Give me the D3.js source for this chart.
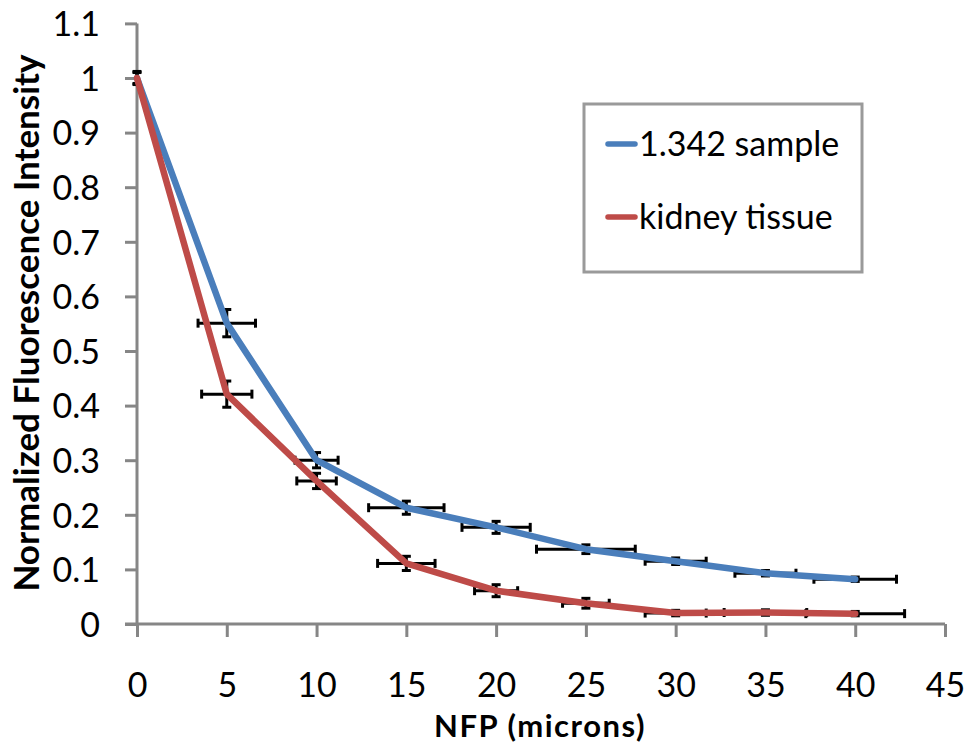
<!DOCTYPE html>
<html>
<head>
<meta charset="utf-8">
<script src="https://cdn.jsdelivr.net/npm/d3@7"></script>
<style>
  html, body { margin: 0; padding: 0; background: #fff; }
  svg { display: block; }
  text { font-family: Lato, "Open Sans", sans-serif; fill: #000; }
</style>
</head>
<body>
<svg id="chart" width="968" height="750"></svg>
<script>
// ---- data ----
const nfp = [0, 5, 10, 15, 20, 25, 30, 35, 40];
const sampleValues = [1.0, 0.551, 0.300, 0.213, 0.177, 0.137, 0.115, 0.093, 0.082];
const sampleXErr   = [0, 1.6, 1.2, 2.1, 1.9, 2.75, 1.7, 1.7, 2.3];
const sampleYErr   = [0.012, 0.025, 0.014, 0.012, 0.011, 0.008, 0.006, 0.005, 0.004];
const kidneyValues = [1.0, 0.421, 0.262, 0.111, 0.061, 0.038, 0.020, 0.021, 0.019];
const kidneyXErr   = [0, 1.4, 1.1, 1.6, 1.2, 1.3, 1.7, 2.3, 2.75];
const kidneyYErr   = [0.010, 0.024, 0.014, 0.013, 0.011, 0.009, 0.005, 0.005, 0.004];
const seriesNames  = ["1.342 sample", "kidney tissue"];
const seriesColors = ["#4A7EBB", "#BE4B48"];
const xTicks = [0, 5, 10, 15, 20, 25, 30, 35, 40, 45];
const yTicks = [0, 0.1, 0.2, 0.3, 0.4, 0.5, 0.6, 0.7, 0.8, 0.9, 1, 1.1];
const xTitle = "NFP (microns)";
const yTitle = "Normalized Fluorescence Intensity";

const series = [
  { name: seriesNames[0], color: seriesColors[0], values: sampleValues, xe: sampleXErr, ye: sampleYErr },
  { name: seriesNames[1], color: seriesColors[1], values: kidneyValues, xe: kidneyXErr, ye: kidneyYErr }
];

const svg = d3.select("#chart");
const x = d3.scaleLinear().domain([0, 45]).range([137, 945]);
const y = d3.scaleLinear().domain([0, 1.1]).range([624, 23.4]);
const axisColor = "#868686";

// ---- axes ----
const gx = svg.append("g").attr("transform", `translate(0,${y(0)})`)
  .call(d3.axisBottom(x).tickValues(xTicks).tickSize(13).tickPadding(36).tickFormat(d3.format("d")));
gx.select(".domain").remove();
gx.selectAll(".tick line").attr("stroke", axisColor).attr("stroke-width", 3);
gx.selectAll(".tick text").attr("font-size", 34).attr("font-family", "Lato").attr("dy", 0).attr("y", 73);
gx.append("line").attr("x1", 125).attr("x2", x(45)).attr("y1", 0).attr("y2", 0)
  .attr("stroke", axisColor).attr("stroke-width", 3);

const gy = svg.append("g").attr("transform", `translate(${x(0)},0)`)
  .call(d3.axisLeft(y).tickValues(yTicks).tickSize(12).tickPadding(25).tickFormat(d => d3.format("~g")(+d.toFixed(1))));
gy.select(".domain").remove();
gy.selectAll(".tick line").attr("stroke", axisColor).attr("stroke-width", 3);
gy.selectAll(".tick text").attr("font-size", 34).attr("font-family", "Lato").attr("dy", "0.36em");
gy.append("line").attr("x1", 0).attr("x2", 0).attr("y1", y(1.1)).attr("y2", y(0))
  .attr("stroke", axisColor).attr("stroke-width", 3);

// ---- error bars ----
const cap = 4.5;
series.forEach(s => {
  const g = svg.append("g").attr("stroke", "#000").attr("stroke-width", 3);
  nfp.forEach((xv, i) => {
    const cx = x(xv), cy = y(s.values[i]);
    if (s.xe[i] > 0) {
      const x0 = x(xv - s.xe[i]), x1 = x(xv + s.xe[i]);
      g.append("line").attr("x1", x0).attr("x2", x1).attr("y1", cy).attr("y2", cy);
      g.append("line").attr("x1", x0).attr("x2", x0).attr("y1", cy - cap).attr("y2", cy + cap);
      g.append("line").attr("x1", x1).attr("x2", x1).attr("y1", cy - cap).attr("y2", cy + cap);
    }
    if (s.ye[i] > 0) {
      const y0 = y(s.values[i] - s.ye[i]), y1 = y(s.values[i] + s.ye[i]);
      g.append("line").attr("x1", cx).attr("x2", cx).attr("y1", y0).attr("y2", y1);
      g.append("line").attr("x1", cx - cap).attr("x2", cx + cap).attr("y1", y0).attr("y2", y0);
      g.append("line").attr("x1", cx - cap).attr("x2", cx + cap).attr("y1", y1).attr("y2", y1);
    }
  });
});

// ---- lines ----
const line = d3.line().x((d, i) => x(nfp[i])).y(d => y(d));
series.forEach(s => {
  svg.append("path").datum(s.values)
    .attr("d", line)
    .attr("fill", "none")
    .attr("stroke", s.color)
    .attr("stroke-width", 6.5)
    .attr("stroke-linejoin", "round")
    .attr("stroke-linecap", "round");
});

// ---- axis titles ----
svg.append("text").attr("x", 540).attr("y", 737).attr("text-anchor", "middle")
  .attr("font-size", 31).attr("font-weight", "bold").attr("letter-spacing", 1.5).text(xTitle);
svg.append("text").attr("transform", "translate(39,323) rotate(-90)").attr("text-anchor", "middle")
  .attr("font-size", 35).attr("font-weight", "bold").text(yTitle);

// ---- legend ----
const lg = svg.append("g");
lg.append("rect").attr("x", 584).attr("y", 104).attr("width", 278).attr("height", 168)
  .attr("fill", "#fff").attr("stroke", "#9a9a9a").attr("stroke-width", 3);
series.forEach((s, i) => {
  const ly = [144, 217][i];
  lg.append("line").attr("x1", 608).attr("x2", 635).attr("y1", ly).attr("y2", ly)
    .attr("stroke", s.color).attr("stroke-width", 5.5).attr("stroke-linecap", "round");
  lg.append("text").attr("x", 639).attr("y", ly + 12).attr("font-size", 34).text(s.name);
});
</script>
</body>
</html>
